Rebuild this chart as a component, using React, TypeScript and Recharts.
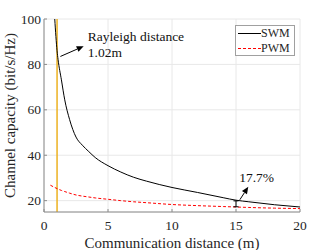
import React from 'react';
import {
  ComposedChart, Line, XAxis, YAxis, CartesianGrid, ReferenceLine, ReferenceDot, Legend,
} from 'recharts';

const distances = [0.5, 0.84, 1.02, 1.1, 1.36, 1.62, 2, 2.5, 3, 3.5, 4, 5, 6, 7, 8, 10, 12, 14, 15, 16, 18, 20];
const swmValues: (number | null)[] = [null, 100, 86, 82.1, 73.2, 64.4, 55.7, 48, 44.4, 41.6, 39, 35.4, 32.6, 30.3, 28.6, 25.8, 23.6, 21.3, 20.2, 19.5, 18.2, 17.2];
const pwmValues = [26.8, 25.8, 25.3, 25.1, 24.5, 24, 23.3, 22.5, 22, 21.6, 21.2, 20.6, 20, 19.5, 19.1, 18.3, 17.8, 17.4, 17.2, 17.0, 16.7, 16.5];
const xTicks = [0, 5, 10, 15, 20];
const yTicks = [20, 40, 60, 80, 100];
const rayleighDistance = 1.02;
const gapX = 15;
const gapLow = 17.3;
const gapHigh = 19.9;
const gapLabel = '17.7%';

const data = distances.map((d, i) => ({ d, swm: swmValues[i], pwm: pwmValues[i] }));

const FONT = 'Liberation Serif, Times New Roman, serif';
const AX = '#8c8c8c';
const TXT = '#262626';

const XTick = (p: any) => (
  <g>
    <line x1={p.x} y1={p.y} x2={p.x} y2={p.y - 3} stroke={AX} />
    <text x={p.x} y={p.y + 18} textAnchor="middle" style={{ fontFamily: FONT }} fontSize={13.5} fill={TXT}>{p.payload.value}</text>
  </g>
);
const YTick = (p: any) => (
  <g>
    <line x1={p.x} y1={p.y} x2={p.x + 3} y2={p.y} stroke={AX} />
    <text x={p.x - 3} y={p.y + 4.5} textAnchor="end" style={{ fontFamily: FONT }} fontSize={13.5} fill={TXT}>{p.payload.value}</text>
  </g>
);
const TopTick = (p: any) => <line x1={p.x} y1={p.y} x2={p.x} y2={p.y + 3} stroke={AX} />;
const RightTick = (p: any) => <line x1={p.x} y1={p.y} x2={p.x - 3} y2={p.y} stroke={AX} />;

const Arrow = (p: any) => {
  const { x1, y1, x2, y2 } = p;
  const a = Math.atan2(y2 - y1, x2 - x1);
  const L = 7, W = 3;
  const bx = x2 - L * Math.cos(a), by = y2 - L * Math.sin(a);
  const px = -Math.sin(a) * W, py = Math.cos(a) * W;
  return (
    <g>
      <line x1={x1} y1={y1} x2={bx} y2={by} stroke="#000" strokeWidth={1} />
      <polygon points={`${x2},${y2} ${bx + px},${by + py} ${bx - px},${by - py}`} fill="#000" />
    </g>
  );
};

const IBar = (p: any) => {
  const { x1, y1, x2, y2 } = p;
  return (
    <g stroke="#000" strokeWidth={1}>
      <line x1={x1} y1={y1} x2={x2} y2={y2} />
      <line x1={x1 - 2.5} y1={y1} x2={x1 + 2.5} y2={y1} />
      <line x1={x2 - 2.5} y1={y2} x2={x2 + 2.5} y2={y2} />
    </g>
  );
};

const textShape = (lines: string[]) => (p: any) => (
  <text x={p.cx} y={p.cy} style={{ fontFamily: FONT }} fontSize={13.5} fill="#111">
    {lines.map((l, i) => (
      <tspan key={i} x={p.cx} dy={i === 0 ? 0 : 16}>{l}</tspan>
    ))}
  </text>
);

const LegendBox = () => (
  <div style={{ border: '1px solid #a0a0a0', background: '#fff', fontFamily: FONT, fontSize: 12, lineHeight: '15px', padding: '0 2px', boxSizing: 'border-box', width: 60, height: 31 }}>
    <div style={{ display: 'flex', alignItems: 'center' }}>
      <svg width={23} height={15}><line x1={0} y1={7.5} x2={23} y2={7.5} stroke="#000" strokeWidth={1} /></svg>
      <span style={{ color: TXT }}>SWM</span>
    </div>
    <div style={{ display: 'flex', alignItems: 'center' }}>
      <svg width={23} height={15}><line x1={0} y1={7.5} x2={23} y2={7.5} stroke="#ff0000" strokeWidth={1} strokeDasharray="3 2" /></svg>
      <span style={{ color: TXT }}>PWM</span>
    </div>
  </div>
);

export default function App() {
  return (
    <div style={{ position: 'absolute', left: 0, top: 0, width: 332, height: 250, background: '#fff' }}>
      <ComposedChart width={332} height={250} data={data} margin={{ top: 19, right: 32, bottom: 0, left: 0 }}>
        <CartesianGrid stroke="#e8e8e8" />
        <XAxis dataKey="d" type="number" domain={[0, 20]} ticks={xTicks} allowDataOverflow
          height={38} tickSize={0} tickMargin={0} stroke={AX} tick={<XTick />}
          label={{ value: 'Communication distance (m)', position: 'insideBottom', offset: 2, style: { fontFamily: FONT, fontSize: 15, fill: TXT } }} />
        <XAxis xAxisId="top" orientation="top" dataKey="d" type="number" domain={[0, 20]} ticks={xTicks}
          height={0} tickSize={0} tickMargin={0} stroke={AX} tick={<TopTick />} />
        <YAxis type="number" domain={[15, 100]} ticks={yTicks} allowDataOverflow width={44}
          tickSize={0} tickMargin={0} stroke={AX} tick={<YTick />}
          label={{ value: 'Channel capacity (bit/s/Hz)', angle: -90, position: 'insideLeft', offset: 10, style: { fontFamily: FONT, fontSize: 15, fill: TXT, textAnchor: 'middle' } }} />
        <YAxis yAxisId="right" orientation="right" type="number" domain={[15, 100]} ticks={yTicks} width={0}
          tickSize={0} tickMargin={0} stroke={AX} tick={<RightTick />} />
        <ReferenceLine x={rayleighDistance} stroke="#EDB120" strokeWidth={1.5} />
        <Line dataKey="swm" type="monotone" stroke="#000" strokeWidth={1} dot={false} isAnimationActive={false} connectNulls={false} />
        <Line dataKey="pwm" type="monotone" stroke="#ff0000" strokeWidth={1} strokeDasharray="3 2" dot={false} isAnimationActive={false} />
        <ReferenceLine segment={[{ x: 1.28, y: 83.5 }, { x: 3.1, y: 88 }]} shape={<Arrow />} />
        <ReferenceLine segment={[{ x: 15.3, y: 20.4 }, { x: 15.96, y: 26.1 }]} shape={<Arrow />} />
        <ReferenceLine segment={[{ x: gapX, y: gapHigh }, { x: gapX, y: gapLow }]} shape={<IBar />} />
        <ReferenceDot x={3.42} y={90.5} r={0} shape={textShape(['Rayleigh distance', '1.02m'])} />
        <ReferenceDot x={15.25} y={28} r={0} shape={textShape([gapLabel])} />
        <Legend layout="vertical" align="center" verticalAlign="middle" content={<LegendBox />}
          wrapperStyle={{ left: 235, top: 25, width: 60, height: 31 }} />
      </ComposedChart>
    </div>
  );
}
